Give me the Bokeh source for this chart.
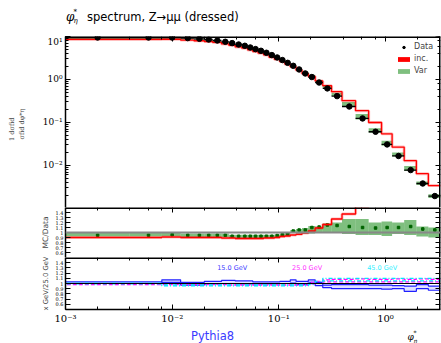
import numpy as np
from bokeh.plotting import figure
from bokeh.layouts import column
from bokeh.models import (Range1d, LogAxis, LinearAxis, Legend, LegendItem,
                          CustomJSTickFormatter, FixedTicker, Span)
from bokeh.embed import file_html
from bokeh.resources import INLINE
from bokeh.core.properties import value

# ---------------- data ----------------
phi_edges = [0.0, 0.004, 0.008, 0.012, 0.016, 0.020, 0.024, 0.029, 0.034, 0.039, 0.045,
             0.051, 0.057, 0.064, 0.072, 0.081, 0.091, 0.102, 0.114, 0.128, 0.145, 0.165,
             0.189, 0.219, 0.258, 0.312, 0.391, 0.524, 0.695, 0.918, 1.153, 1.496, 1.947,
             2.522, 3.277]
data_vals = [9.48, 9.48, 9.48, 9.18, 8.84, 8.51, 8.07, 7.53, 7.02, 6.51, 6.08, 5.55, 5.09,
             4.65, 4.18, 3.69, 3.25, 2.83, 2.44, 2.08, 1.71, 1.38, 1.14, 0.85, 0.62, 0.41,
             0.235, 0.124, 0.0608, 0.0308, 0.0166, 0.0078, 0.0038, 0.00194]
inc_ratio = [0.90, 0.90, 0.91, 0.90, 0.90, 0.90, 0.90, 0.89, 0.89, 0.88, 0.88, 0.88, 0.88,
             0.88, 0.89, 0.89, 0.90, 0.92, 0.93, 0.95, 0.965, 0.99, 1.03, 1.09, 1.16, 1.27,
             1.37, 1.52, 1.64, 1.77, 1.61, 1.65, 1.69, 1.75]
var_lo = [0.92, 0.92, 0.93, 0.91, 0.91, 0.91, 0.91, 0.91, 0.89, 0.89, 0.89, 0.89, 0.89,
          0.89, 0.89, 0.89, 0.90, 0.92, 0.93, 0.99, 0.98, 0.98, 0.98, 0.99, 1.00, 1.00,
          0.97, 0.95, 0.95, 0.93, 0.97, 0.95, 0.92, 0.90]
var_hi = [0.99, 0.99, 1.00, 0.98, 0.98, 0.98, 0.98, 0.98, 0.955, 0.955, 0.955, 0.955, 0.955,
          0.955, 0.955, 0.955, 0.96, 0.98, 0.99, 1.05, 1.07, 1.09, 1.13, 1.12, 1.18, 1.20,
          1.27, 1.27, 1.20, 1.22, 1.20, 1.25, 1.12, 1.10]
var_mid = [0.945, 0.945, 0.955, 0.945, 0.945, 0.945, 0.945, 0.945, 0.925, 0.925, 0.925, 0.925,
           0.925, 0.925, 0.925, 0.925, 0.94, 0.955, 0.965, 1.03, 1.05, 1.05, 1.10, 1.11, 1.15,
           1.14, 1.12, 1.10, 1.09, 1.10, 1.10, 1.12, 1.07, 1.05]
var_err = [0.005, 0.005, 0.005, 0.005, 0.005, 0.005, 0.005, 0.005, 0.005, 0.005, 0.005, 0.005,
           0.005, 0.005, 0.006, 0.006, 0.006, 0.007, 0.007, 0.008, 0.008, 0.009, 0.01, 0.01,
           0.012, 0.015, 0.02, 0.02, 0.02, 0.02, 0.025, 0.025, 0.03, 0.03]
r15_lo = [1.00, 1.00, 1.02, 0.97, 0.97, 0.99, 0.99, 1.00, 1.00, 0.99, 0.99, 0.99, 0.99, 0.99,
          0.99, 0.99, 0.99, 1.00, 1.00, 1.01, 0.98, 0.98, 1.02, 0.96, 0.92, 0.90, 0.90, 0.90,
          0.90, 0.89, 0.90, 0.85, 0.90, 0.87]
r15_hi = [1.03, 1.03, 1.07, 1.02, 1.02, 1.04, 1.04, 1.06, 1.06, 1.05, 1.05, 1.05, 1.03, 1.03,
          1.03, 1.03, 1.03, 1.04, 1.04, 1.07, 1.04, 1.04, 1.07, 1.02, 0.97, 0.98, 0.98, 0.98,
          0.97, 0.97, 0.96, 0.95, 0.98, 0.95]
r25_lo = [0.98, 0.98, 0.98, 0.98, 0.98, 0.98, 0.98, 0.98, 0.97, 0.97, 0.97, 0.97, 0.97, 0.97,
          0.97, 0.97, 0.97, 0.97, 0.97, 0.97, 0.97, 0.97, 0.99, 1.00, 1.03, 1.03, 1.03, 1.03,
          1.03, 1.03, 1.03, 1.03, 1.03, 1.03]
r25_hi = [1.00, 1.00, 1.00, 1.00, 1.00, 1.00, 1.00, 1.00, 0.99, 0.99, 0.99, 0.99, 0.99, 0.99,
          0.99, 0.99, 0.99, 0.99, 0.99, 0.99, 0.99, 0.99, 1.02, 1.04, 1.07, 1.08, 1.08, 1.09,
          1.08, 1.08, 1.09, 1.08, 1.09, 1.08]
r45_lo = [0.99, 0.99, 0.955, 0.955, 0.955, 0.955, 0.955, 0.955, 0.955, 0.955, 0.955, 0.955,
          0.955, 0.955, 0.955, 0.955, 0.955, 0.955, 0.955, 0.955, 0.955, 0.955, 0.98, 1.00,
          1.05, 1.05, 1.05, 1.05, 1.05, 1.05, 1.05, 1.05, 1.05, 1.05]
r45_hi = [1.01, 1.01, 0.975, 0.975, 0.975, 0.975, 0.975, 0.975, 0.975, 0.975, 0.975, 0.975,
          0.975, 0.975, 0.975, 0.975, 0.975, 0.975, 0.975, 0.975, 0.975, 0.975, 1.01, 1.04,
          1.10, 1.10, 1.10, 1.10, 1.10, 1.10, 1.10, 1.10, 1.10, 1.10]
scale_labels = ["15.0 GeV", "25.0 GeV", "45.0 GeV"]
scale_label_x = [0.0264, 0.133, 0.673]
ratio_ticks = [0.6, 0.7, 0.8, 0.9, 1.0, 1.1, 1.2, 1.3, 1.4]
legend_labels = ["Data", "inc.", "Var"]
title_text = "spectrum, Z\u2192\u03bc\u03bc (dressed)"
generator_text = "Pythia8"

# ---------------- derived ----------------
edges = np.array(phi_edges)
edges_plot = np.where(edges <= 0, 1e-4, edges)
left, right = edges_plot[:-1], edges_plot[1:]
centers = 0.5 * (edges[:-1] + edges[1:])
data = np.array(data_vals)
inc = data * np.array(inc_ratio)


def step_y(v):
    v = list(v)
    return v + [v[-1]]


SERIF = "DejaVu Serif"
SANS = "DejaVu Sans"
X0, X1 = 1e-3, 3.277

sup_js = """
const m = {"-":"\u207b","0":"\u2070","1":"\u00b9","2":"\u00b2","3":"\u00b3","4":"\u2074",
           "5":"\u2075","6":"\u2076","7":"\u2077","8":"\u2078","9":"\u2079"};
const e = Math.round(Math.log10(tick));
return "10" + String(e).split("").map(c => m[c]).join("");
"""
blank_js = "return '';"


def style_axis(ax, labels=True, size="9px", font=SERIF, lw=1.5):
    ax.axis_line_color = "black"
    ax.axis_line_width = lw
    ax.major_tick_in = 5
    ax.major_tick_out = 0
    ax.minor_tick_in = 3
    ax.minor_tick_out = 0
    ax.major_tick_line_color = "black"
    ax.minor_tick_line_color = "black"
    ax.major_tick_line_width = 1
    ax.minor_tick_line_width = 1
    ax.major_label_text_font = font
    ax.major_label_text_color = "black"
    if labels:
        ax.major_label_text_font_size = size
        ax.major_label_standoff = 3
    else:
        ax.major_label_text_font_size = "1px"
        ax.major_label_standoff = 0
        ax.formatter = CustomJSTickFormatter(code=blank_js)


def frame_axes(p, top, ylog, yticks=None):
    # mirror axes drawn exactly on the frame edges (zero layout size)
    ax = LogAxis(fixed_location=top)
    style_axis(ax, False, lw=3)
    p.add_layout(ax, "above")
    if ylog:
        ax = LogAxis(fixed_location=X1)
    else:
        ax = LinearAxis(fixed_location=X1, ticker=FixedTicker(ticks=yticks))
    style_axis(ax, False, lw=3)
    p.add_layout(ax, "right")


def text_strip(height, top):
    f = figure(width=441, height=height, x_range=Range1d(65, 440),
               y_range=Range1d(top + height, top), output_backend="svg",
               toolbar_location=None, x_axis_location=None, y_axis_location=None,
               min_border_left=65, min_border_right=1, min_border_top=0,
               min_border_bottom=0)
    f.outline_line_color = None
    f.grid.visible = False
    return f


xr = Range1d(X0, X1)
common = dict(width=441, output_backend="svg", toolbar_location=None,
              min_border_left=65, min_border_right=1, x_range=xr,
              x_axis_type="log", x_axis_location=None)

# ---------------- header (title) ----------------
head = text_strip(36, 0)
head.text(x=[65.5], y=[16], text=["\u03c6"], text_font=value(SERIF),
          text_font_style="italic", text_font_size="12px", text_baseline="middle")
head.text(x=[73], y=[11], text=["*"], text_font=value(SERIF), text_font_size="7px",
          text_baseline="middle")
head.text(x=[73], y=[20], text=["\u03b7"], text_font=value(SERIF),
          text_font_style="italic", text_font_size="7px", text_baseline="middle")
head.text(x=[86.5], y=[16], text=[title_text], text_font=value(SANS),
          text_font_size="11.5px", text_baseline="middle")

# ---------------- main panel ----------------
Y0, Y1 = 0.00105, 10.0
p1 = figure(height=171, y_axis_type="log", y_range=Range1d(Y0, Y1),
            min_border_top=0, min_border_bottom=0, **common)
p1.grid.visible = False
p1.outline_line_color = None
style_axis(p1.yaxis[0], True, "9px")
p1.yaxis[0].formatter = CustomJSTickFormatter(code=sup_js)
p1.yaxis[0].axis_label = "1        d\u03c3fid\n\u03c3fid   d\u03c6*\u03b7"
p1.yaxis[0].axis_label_text_font = SERIF
p1.yaxis[0].axis_label_text_font_style = "normal"
p1.yaxis[0].axis_label_text_font_size = "6.5px"
p1.yaxis[0].axis_label_standoff = 14
frame_axes(p1, Y1, True)

var_r = p1.quad(left=left, right=right, bottom=data * np.array(var_lo),
                top=data * np.array(var_hi), fill_color="green", fill_alpha=0.5,
                line_color=None)
p1.step(x=edges_plot, y=step_y(inc), mode="after", line_color="red", line_width=3,
        line_alpha=0.25)
p1.step(x=edges_plot, y=step_y(inc), mode="after", line_color="red", line_width=1.3)
p1.segment(x0=left, x1=right, y0=data, y1=data, line_color="black", line_width=1.3)
data_r = p1.scatter(x=centers, y=data, marker="circle", size=5.5, fill_color="black",
                    line_color="black")
cross_dummy = p1.scatter(x=[1.0], y=[-1.0], marker="cross", size=9, line_color="black",
                         line_width=1.3)
inc_dummy = p1.quad(left=[1.0], right=[1.1], top=[-1.0], bottom=[-2.0], fill_color="red",
                    line_color=None)
legend = Legend(items=[LegendItem(label=legend_labels[0], renderers=[data_r, cross_dummy]),
                       LegendItem(label=legend_labels[1], renderers=[inc_dummy]),
                       LegendItem(label=legend_labels[2], renderers=[var_r])],
                location="top_right", border_line_color=None, background_fill_alpha=0,
                label_text_font=SANS, label_text_font_size="8px", glyph_width=15,
                glyph_height=6, label_height=8, spacing=3, padding=2, margin=6,
                label_standoff=3)
p1.add_layout(legend)

# ---------------- ratio panel 1 ----------------
p2 = figure(height=50, y_range=Range1d(0.5, 1.5), min_border_top=0, min_border_bottom=0,
            **common)
p2.grid.visible = False
p2.outline_line_color = None
style_axis(p2.yaxis[0], True, "5px")
p2.yaxis[0].ticker = FixedTicker(ticks=ratio_ticks)
p2.yaxis[0].major_label_standoff = 2
p2.yaxis[0].axis_label = "MC/Data"
p2.yaxis[0].axis_label_text_font = SANS
p2.yaxis[0].axis_label_text_font_style = "normal"
p2.yaxis[0].axis_label_text_font_size = "7.5px"
p2.yaxis[0].axis_label_standoff = 3
frame_axes(p2, 1.5, False, ratio_ticks)

p2.add_layout(Span(location=1.0, dimension="width", line_color="#888888", line_width=2))
p2.quad(left=left, right=right, bottom=var_lo, top=var_hi, fill_color="green",
        fill_alpha=0.5, line_color=None)
p2.segment(x0=centers, x1=centers, y0=np.array(var_mid) - np.array(var_err),
           y1=np.array(var_mid) + np.array(var_err), line_color="#006400", line_width=1.2)
p2.scatter(x=centers, y=var_mid, marker="square", size=2.5, fill_color="#006400",
           line_color="#006400")
p2.step(x=edges_plot, y=step_y(inc_ratio), mode="after", line_color="red", line_width=3,
        line_alpha=0.25)
p2.step(x=edges_plot, y=step_y(inc_ratio), mode="after", line_color="red", line_width=1.3)

# ---------------- ratio panel 2 ----------------
p3 = figure(height=69, y_range=Range1d(0.5, 1.5), min_border_top=0, min_border_bottom=17,
            **common)
p3.grid.visible = False
p3.outline_line_color = None
style_axis(p3.yaxis[0], True, "5px")
p3.yaxis[0].ticker = FixedTicker(ticks=ratio_ticks)
p3.yaxis[0].major_label_standoff = 2
p3.yaxis[0].axis_label = "x GeV/25.0 GeV"
p3.yaxis[0].axis_label_text_font = SANS
p3.yaxis[0].axis_label_text_font_style = "normal"
p3.yaxis[0].axis_label_text_font_size = "6.8px"
p3.yaxis[0].axis_label_standoff = 3
frame_axes(p3, 1.5, False, ratio_ticks)
ax3b = LogAxis()
style_axis(ax3b, True, "10px")
ax3b.formatter = CustomJSTickFormatter(code=sup_js)
ax3b.major_label_standoff = 3
p3.add_layout(ax3b, "below")

p3.quad(left=left, right=right, bottom=r15_lo, top=r15_hi, fill_color="#6060ff",
        fill_alpha=0.18, line_color=None)
p3.step(x=edges_plot, y=step_y(r15_lo), mode="after", line_color="#2020ff", line_width=1.2)
p3.step(x=edges_plot, y=step_y(r15_hi), mode="after", line_color="#2020ff", line_width=1.2)
p3.step(x=edges_plot, y=step_y(r25_lo), mode="after", line_color="#ff00ff", line_width=1.2,
        line_dash="4 2")
p3.step(x=edges_plot, y=step_y(r25_hi), mode="after", line_color="#ff00ff", line_width=1.2,
        line_dash="4 2")
p3.step(x=edges_plot, y=step_y(r45_lo), mode="after", line_color="#00e5ff", line_width=1.2,
        line_dash="4 2 1 2")
p3.step(x=edges_plot, y=step_y(r45_hi), mode="after", line_color="#00e5ff", line_width=1.2,
        line_dash="4 2 1 2")
p3.add_layout(Span(location=1.0, dimension="width", line_color="black", line_width=1.2))
label_colors = ["#3a3aff", "#ff30ff", "#30f0ff"]
p3.text(x=scale_label_x, y=[1.30] * 3, text=scale_labels, text_color=label_colors,
        text_font=value(SANS), text_font_size="6.5px", text_baseline="middle",
        text_align="left")

# ---------------- footer ----------------
foot = text_strip(17, 326)
foot.text(x=[212], y=[335], text=[generator_text], text_font=value(SANS),
          text_font_size="11.5px", text_color="#3a3aff", text_align="center",
          text_baseline="middle")
foot.text(x=[407], y=[336], text=["\u03c6"], text_font=value(SERIF),
          text_font_style="italic", text_font_size="9px", text_baseline="middle")
foot.text(x=[413], y=[332], text=["*"], text_font=value(SERIF), text_font_size="6px",
          text_baseline="middle")
foot.text(x=[413], y=[339.5], text=["\u03b7"], text_font=value(SERIF),
          text_font_style="italic", text_font_size="6px", text_baseline="middle")

layout = column(head, p1, p2, p3, foot, spacing=0)
open("out.html", "w").write(file_html(layout, INLINE))
